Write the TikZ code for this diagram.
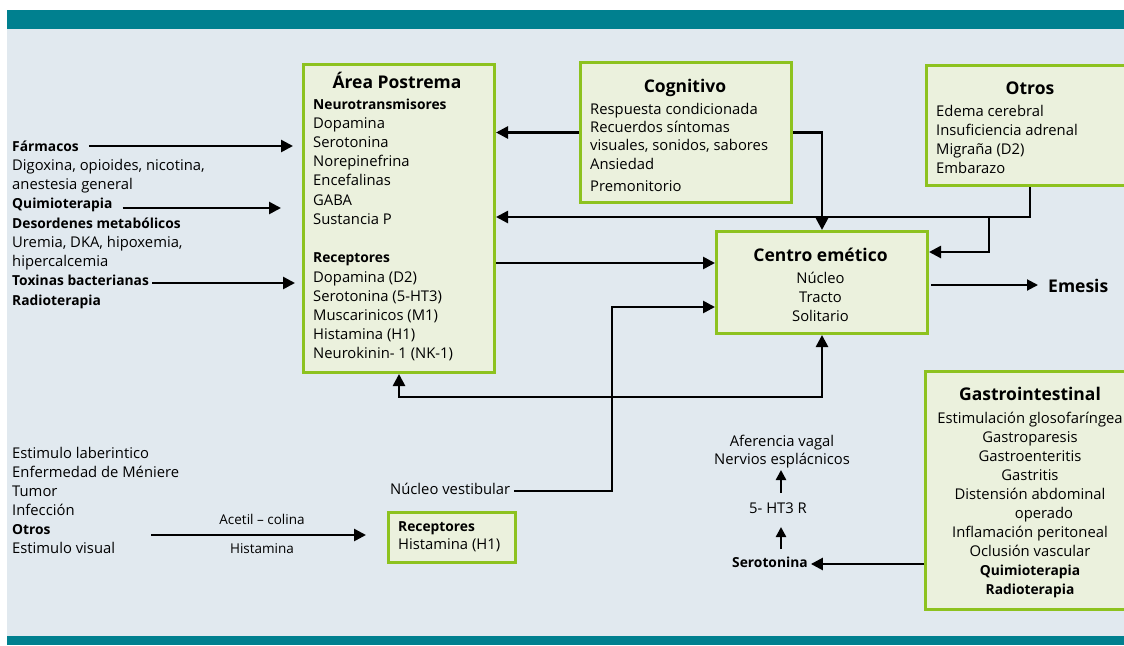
\documentclass[tikz,border=0pt]{standalone}
\usepackage{fontspec}
\setmainfont{Open Sans}
\usetikzlibrary{arrows.meta}
\definecolor{tealband}{HTML}{00808F}
\definecolor{bgc}{HTML}{E1E9EF}
\definecolor{boxfill}{HTML}{EBF1DD}
\definecolor{boxline}{HTML}{8DC21F}
\newcommand{\boldtxt}[1]{{\fontsize{13.8}{17}\selectfont\bfseries #1}}
\begin{document}
\begin{tikzpicture}[x=1pt,y=-1pt,
  box/.style={draw=boxline, fill=boxfill, line width=3pt, inner sep=0pt, anchor=north west},
  arr/.style={line width=2.6pt, -{Triangle[length=12pt,width=12pt]}},
  arrboth/.style={line width=2.6pt, {Triangle[length=12pt,width=12pt]}-{Triangle[length=12pt,width=12pt]}},
  arrsmall/.style={line width=2.4pt, -{Triangle[length=10pt,width=10pt]}},
  t/.style={anchor=base west, inner sep=0pt, font=\fontsize{14.8}{17}\selectfont},
  tc/.style={anchor=base, inner sep=0pt, font=\fontsize{14.8}{17}\selectfont},
  ttl/.style={anchor=base, inner sep=0pt, font=\fontsize{17.5}{22}\selectfont\bfseries},
  small/.style={anchor=base, inner sep=0pt, font=\fontsize{13.5}{15}\selectfont}]

\useasboundingbox (0,0) rectangle (1124,645);
\clip (0,0) rectangle (1124,645);
\fill[white] (0,0) rectangle (1124,645);
\fill[bgc] (7,10) rectangle (1124,645);
\fill[tealband] (7,10) rectangle (1124,29);
\fill[tealband] (7,636) rectangle (1124,645);

% boxes
\node[box, minimum width=191, minimum height=308] (ap) at (302,63) {};
\node[box, minimum width=211, minimum height=140] (cog) at (579,61) {};
\node[box, minimum width=206, minimum height=120] (otros) at (925,64) {};
\node[box, minimum width=211, minimum height=102] (ce) at (715,230) {};
\node[box, minimum width=206, minimum height=238] (gi) at (924,370) {};
\node[box, minimum width=127, minimum height=50] (rb) at (387,511) {};

% Area postrema
\node[ttl] (apt) at (397,88) {Área Postrema};
\foreach \i/\s in {0/{\boldtxt{Neurotransmisores}},1/Dopamina,2/Serotonina,3/Norepinefrina,4/Encefalinas,5/GABA,6/{Sustancia P},8/{\boldtxt{Receptores}},9/{Dopamina (D2)},10/{Serotonina (5-HT3)},11/{Muscarinicos (M1)},12/{Histamina (H1)},13/{Neurokinin- 1 (NK-1)}}
  \node[t] (ap\i) at (313,109+19.23*\i) {\s};

% Cognitivo
\node[ttl] (cogt) at (685,92) {Cognitivo};
\foreach \y/\s [count=\i] in {114/{Respuesta condicionada},132.5/{Recuerdos síntomas},150.5/{visuales, sonidos, sabores},169.5/Ansiedad,191/Premonitorio}
  \node[t] (cog\i) at (590,\y) {\s};

% Otros
\node[ttl] (otrost) at (1030,94) {Otros};
\foreach \s [count=\i from 0] in {{Edema cerebral},{Insuficiencia adrenal},{Migraña (D2)},Embarazo}
  \node[t] (ot\i) at (936,116+19*\i) {\s};

% Centro emetico
\node[ttl] (cet) at (820.5,261) {Centro emético};
\foreach \s [count=\i from 0] in {Núcleo,Tracto,Solitario}
  \node[tc] (ce\i) at (820.5,283+19*\i) {\s};

% Gastrointestinal
\node[ttl] (git) at (1030,400) {Gastrointestinal};
\foreach \x/\s [count=\i from 0] in {1030/{Estimulación glosofaríngea},1030/Gastroparesis,1030/Gastroenteritis,1030/Gastritis,1030/{Distensión abdominal},1044/operado,1030/{Inflamación peritoneal},1030/{Oclusión vascular},1030/{\boldtxt{Quimioterapia}},1030/{\boldtxt{Radioterapia}}}
  \node[tc] (gi\i) at (\x,423+19.1*\i) {\s};

% Left column
\foreach \s [count=\i from 0] in {{\boldtxt{Fármacos}},{Digoxina, opioides, nicotina,},{anestesia general},{\boldtxt{Quimioterapia}},{\boldtxt{Desordenes metabólicos}},{Uremia, DKA, hipoxemia,},hipercalcemia,{\boldtxt{Toxinas bacterianas}},{\boldtxt{Radioterapia}}}
  \node[t] (L\i) at (12,151+19.25*\i) {\s};

\foreach \s [count=\i from 0] in {{Estimulo laberintico},{Enfermedad de Méniere},Tumor,Infección,{\boldtxt{Otros}},{Estimulo visual}}
  \node[t] (V\i) at (12,458+19.1*\i) {\s};

% Receptores box text
\node[t] (rb1) at (398,531) {\boldtxt{Receptores}};
\node[t] (rb2) at (398,549) {Histamina (H1)};

% other labels
\node[t] (nv) at (390,494) {Núcleo vestibular};
\node[anchor=base west, inner sep=0pt, font=\fontsize{17.5}{20}\selectfont\bfseries] (em) at (1048,292) {Emesis};
\node[tc] (av) at (782,446) {Aferencia vagal};
\node[tc] (ne) at (782,464) {Nervios esplácnicos};
\node[tc] (ht) at (778,513) {5- HT3 R};
\node[t] (se) at (732,567) {\boldtxt{Serotonina}};
\node[small] (acl) at (262,524) {Acetil – colina};
\node[small] (hil) at (262,553) {Histamina};

% left arrows
\coordinate (fa) at (293,146);
\coordinate (qa) at (281,208);
\coordinate (ta) at (295,283);
\draw[arr, shorten <=10pt] (fa -| L0.east) -- (fa);
\draw[arr, shorten <=10pt] (qa -| L3.east) -- (qa);
\draw[arr, shorten <=3pt] (ta -| L7.east) -- (ta);

% Cognitivo connectors
\draw[arr] (cog.west) -- (cog.west -| ap.east);
\draw[arr] (cog.east) -- (cog.east -| ce.north) -- (ce.north);

% Otros connectors
\coordinate (j1) at (1030,217);
\coordinate (j2) at (989,217);
\coordinate (j3) at (989,252);
\draw[arr] (j1 |- otros.south) -- (j1) -- (j1 -| ap.east);
\draw[arr] (j2) -- (j3) -- (j3 -| ce.east);

% Area postrema -> centro
\coordinate (r1) at (0,263);
\draw[arr] (r1 -| ap.east) -- (r1 -| ce.west);

% Nucleo vestibular -> centro
\coordinate (k0) at (612,491);
\coordinate (k1) at (612,307);
\draw[arr, shorten <=4pt] (k0 -| nv.east) -- (k0) -- (k1) -- (k1 -| ce.west);

% bottom double connector
\coordinate (b1) at (0,397);
\draw[arrboth] (ap.south) -- (ap.south |- b1) -- (ce.south |- b1) -- (ce.south);

% Emesis
\coordinate (e0) at (931,285);
\draw[line width=2pt, -{Triangle[length=11pt,width=11pt]}, shorten >=10pt] (e0) -- (e0 -| em.west);

% Gastrointestinal -> serotonina
\coordinate (s0) at (0,564);
\draw[arr, shorten >=3pt] (s0 -| gi.west) -- (s0 -| se.east);

% vertical small arrows
\coordinate (u1) at (781,549);
\coordinate (u2) at (781,527);
\coordinate (u3) at (781,493);
\coordinate (u4) at (781,470);
\draw[arrsmall] (u1) -- (u2);
\draw[arrsmall] (u3) -- (u4);

% Acetil-colina arrow
\coordinate (a1) at (151,535);
\coordinate (a2) at (366,535);
\draw[arr] (a1) -- (a2);
\end{tikzpicture}
\end{document}
